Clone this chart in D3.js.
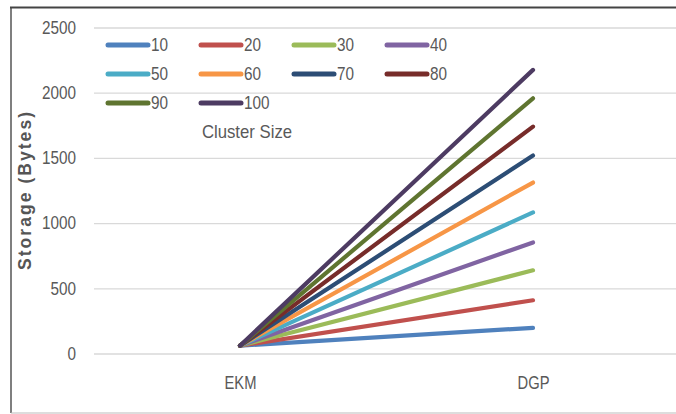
<!DOCTYPE html>
<html>
<head>
<meta charset="utf-8">
<script src="https://cdn.jsdelivr.net/npm/d3@7"></script>
<style>
  html, body { margin: 0; padding: 0; background: #fff; }
  svg { display: block; }
  text { font-family: "Liberation Sans", Arial, sans-serif; }
</style>
</head>
<body>
<svg id="chart" width="676" height="414"></svg>
<script>
// Storage needed per scheme, one series per cluster size
const categories = ["EKM", "DGP"];
const clusterSizes = ["10", "20", "30", "40", "50", "60", "70", "80", "90", "100"];
const ekmStorage = [60, 60, 60, 60, 60, 60, 60, 60, 60, 60];
const dgpStorage = [197, 408, 638, 852, 1082, 1311, 1518, 1740, 1957, 2175];
const seriesColors = ["#4F81BD", "#C0504D", "#9BBB59", "#8064A2", "#4BACC6",
                      "#F79646", "#2C4D75", "#772C2A", "#5F7530", "#4D3B62"];
const yTicks = [0, 500, 1000, 1500, 2000, 2500];

const svg = d3.select("#chart");
const textColor = "#595959";

// squeeze a text horizontally around its anchor point for a condensed look
function condense(sel, k) {
  sel.each(function () {
    const ax = +this.getAttribute("x") || 0;
    d3.select(this).attr("transform", `translate(${ax},0) scale(${k},1) translate(${-ax},0)`);
  });
}

// frame
svg.append("line").attr("x1", 11).attr("x2", 11).attr("y1", 7).attr("y2", 413)
  .attr("stroke", "#555").attr("stroke-width", 1.5);
svg.append("line").attr("x1", 10).attr("x2", 676).attr("y1", 7.5).attr("y2", 7.5)
  .attr("stroke", "#444").attr("stroke-width", 2);
svg.append("line").attr("x1", 11).attr("x2", 676).attr("y1", 413).attr("y2", 413)
  .attr("stroke", "#bbb").attr("stroke-width", 1);

const x = d3.scalePoint().domain(categories).range([240, 533]);
const y = d3.scaleLinear().domain([0, 2500]).range([353.5, 27.5]);

// horizontal gridlines and value labels
const yAxis = d3.axisLeft(y).tickValues(yTicks).tickSize(-(676 - 94)).tickPadding(18)
  .tickFormat(d3.format("d"));
const gy = svg.append("g").attr("transform", "translate(94,0)").call(yAxis);
gy.select(".domain").remove();
gy.selectAll(".tick line").attr("stroke", "#d9d9d9").attr("stroke-width", 1.3);
gy.selectAll(".tick text").attr("fill", textColor).attr("font-size", 18)
  .attr("font-family", "'Liberation Sans', sans-serif").call(condense, 0.85);

// category labels
const xAxis = d3.axisBottom(x).tickSize(0).tickPadding(23);
const gx = svg.append("g").attr("transform", "translate(0,353.5)").call(xAxis);
gx.select(".domain").remove();
gx.selectAll(".tick text").attr("fill", textColor).attr("font-size", 18)
  .attr("font-family", "'Liberation Sans', sans-serif").call(condense, 0.82);

// y axis title
svg.append("text")
  .attr("transform", "translate(31,191) rotate(-90)")
  .attr("text-anchor", "middle")
  .attr("font-size", 17.5).attr("font-weight", "bold").attr("fill", "#555")
  .attr("textLength", 158).attr("lengthAdjust", "spacing")
  .text("Storage (Bytes)");

// series lines
const series = clusterSizes.map((name, i) => ({
  name, color: seriesColors[i],
  values: [{ c: categories[0], v: ekmStorage[i] }, { c: categories[1], v: dgpStorage[i] }]
}));
const line = d3.line().x(d => x(d.c)).y(d => y(d.v));
svg.append("g").selectAll("path").data(series).join("path")
  .attr("d", d => line(d.values))
  .attr("fill", "none")
  .attr("stroke", d => d.color)
  .attr("stroke-width", 4.2)
  .attr("stroke-linecap", "round");

// legend
const legend = svg.append("g");
const item = legend.selectAll("g").data(series).join("g")
  .attr("transform", (d, i) => `translate(${108 + (i % 4) * 93},${45 + Math.floor(i / 4) * 29})`);
item.append("line").attr("x1", 0).attr("x2", 40).attr("y1", 0).attr("y2", 0)
  .attr("stroke", d => d.color).attr("stroke-width", 5).attr("stroke-linecap", "round");
item.append("text").attr("x", 43).attr("y", 0).attr("dy", "0.36em")
  .attr("font-size", 18).attr("fill", textColor).text(d => d.name).call(condense, 0.85);
legend.append("text").attr("x", 247).attr("y", 132).attr("dy", "0.36em")
  .attr("text-anchor", "middle").attr("font-size", 18).attr("fill", textColor)
  .text("Cluster Size").call(condense, 0.93);
</script>
</body>
</html>
